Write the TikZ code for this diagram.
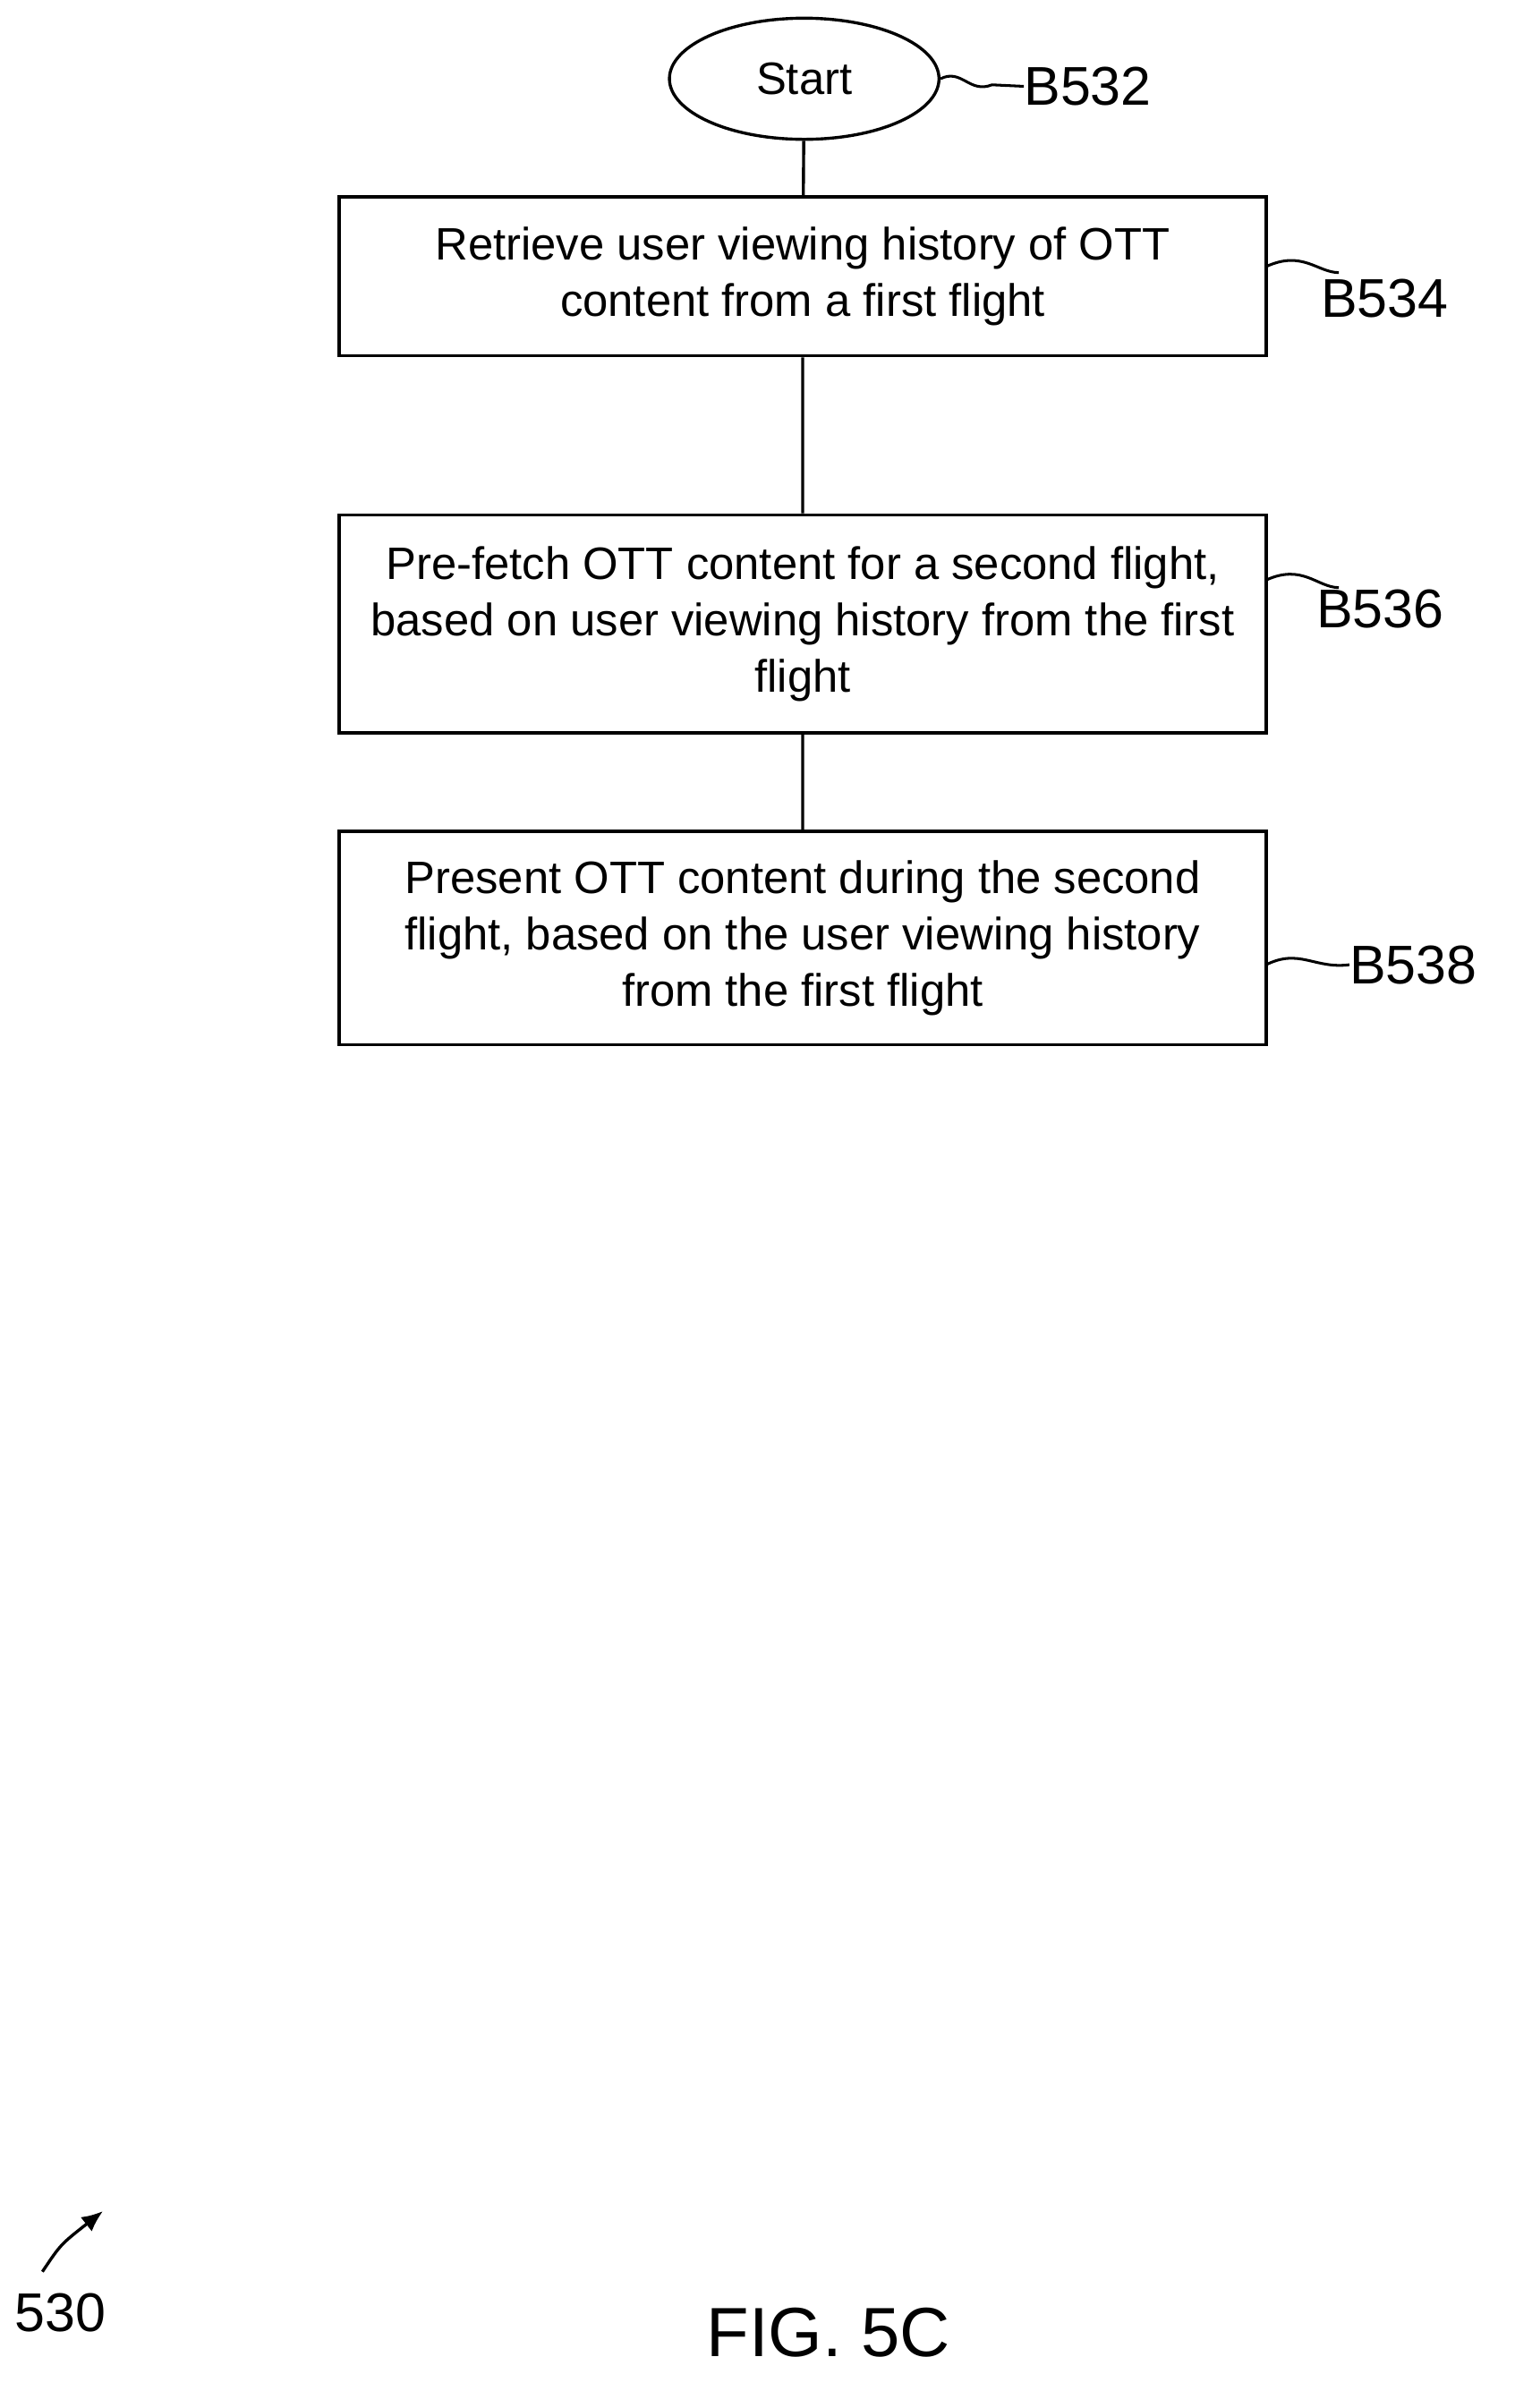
\documentclass[tikz,border=0pt]{standalone}
\usepackage{fontspec}
\setmainfont{Liberation Sans}
\usetikzlibrary{shapes.geometric,arrows.meta}
\begin{document}
\begin{tikzpicture}[x=1pt,y=-1pt,
  box/.style={draw,line width=2pt,minimum width=612pt,align=center,font=\fontsize{30}{37}\selectfont,inner sep=0pt},
  lbl/.style={font=\fontsize{36}{40}\selectfont,anchor=west,inner sep=0pt},
  sq/.style={line width=1.8pt}]
\useasboundingbox (0,0) rectangle (1000,1590);
\node[draw,line width=2pt,ellipse,minimum width=178pt,minimum height=80pt,inner sep=0pt,font=\fontsize{30}{34}\selectfont] (s) at (531,52) {Start};
\node[box,minimum height=105pt] (b1) at (530,182.5) {Retrieve user viewing history of OTT\\content from a first flight};
\node[box,minimum height=144pt] (b2) at (530,412) {Pre-fetch OTT content for a second flight,\\based on user viewing history from the first\\flight};
\node[box,minimum height=141pt] (b3) at (530,619.5) {Present OTT content during the second\\flight, based on the user viewing history\\from the first flight};
\draw[line width=2pt] (s) -- (b1) (b1) -- (b2) (b2) -- (b3);
\node[lbl] (l1) at (676,57) {B532};
\node[lbl] (l2) at (872,197) {B534};
\node[lbl] (l3) at (869,402) {B536};
\node[lbl] (l4) at (891,637) {B538};
\draw[sq] (s.east) .. controls (635,45) and (640,62) .. (655,56) -- (l1.west);
\draw[sq] (836,176) .. controls (860,165) and (870,180) .. (884,180);
\draw[sq] (836,383) .. controls (860,372) and (870,388) .. (884,388);
\draw[sq] (836,637) .. controls (858,626) and (868,640) .. (l4.west);
\node[font=\fontsize{36}{40}\selectfont] (n530) at (40,1527) {530};
\coordinate (a0) at (28,1500);
\coordinate (a1) at (68,1460);
\draw[line width=2pt,-{Latex[length=14pt,width=12pt]}] (a0) .. controls (40,1482) .. (a1);
\node[font=\fontsize{46}{50}\selectfont] (fig) at (547,1540) {FIG. 5C};
\end{tikzpicture}
\end{document}
